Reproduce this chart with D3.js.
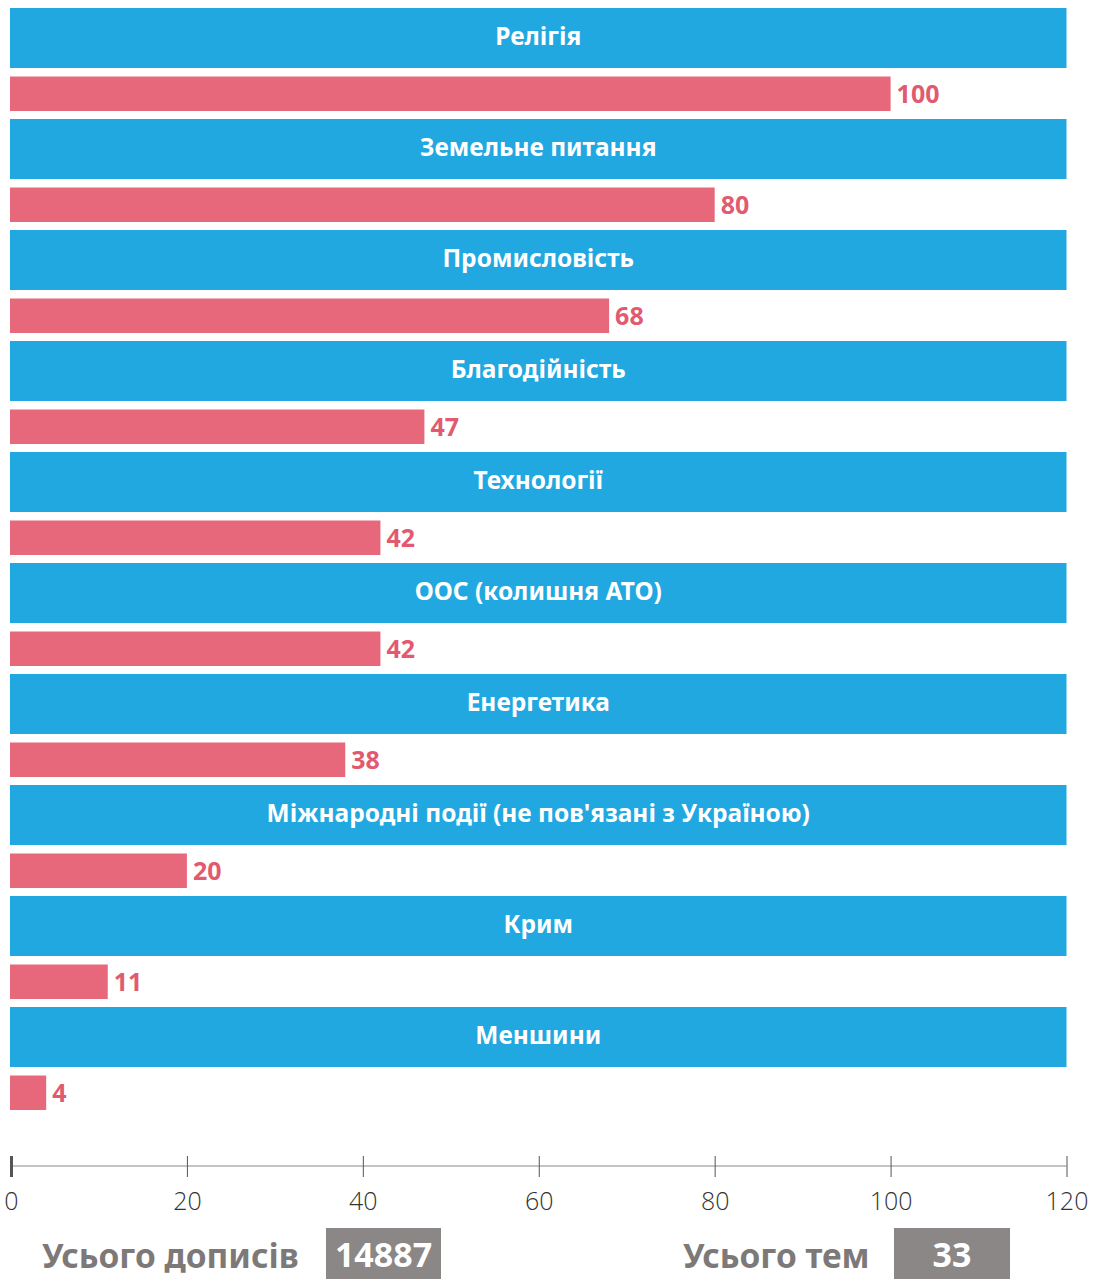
<!DOCTYPE html>
<html lang="uk">
<head>
  <meta charset="UTF-8" />
  <title>Теми дописів</title>
  <script src="https://cdn.jsdelivr.net/npm/d3@7"></script>
  <style>
    body { margin: 0; background: #fff; }
    svg { display: block; font-family: "Noto Sans", "Open Sans", sans-serif; }
  </style>
</head>
<body>
<script>
  // data
  var categories = ["Релігія", "Земельне питання", "Промисловість", "Благодійність", "Технології",
    "ООС (колишня АТО)", "Енергетика", "Міжнародні події (не пов'язані з Україною)", "Крим", "Меншини"];
  var values = [100, 80, 68, 47, 42, 42, 38, 20, 11, 4];
  var tickValues = [0, 20, 40, 60, 80, 100, 120];
  var totalLabels = ["Усього дописів", "Усього тем"];
  var totalValues = [14887, 33];

  var w = 1097, h = 1279;
  var blue = "#21a8e1", pink = "#e8687b", pinkText = "#e25a70", grey = "#7d7978", box = "#8b8786";

  var svg = d3.select("body").append("svg").attr("width", w).attr("height", h);

  var x = d3.scaleLinear().domain([0, 120]).range([11, 1066.5]);

  var y = d3.scaleBand()
    .domain(categories)
    .range([8, 8 + 111 * categories.length])
    .paddingInner(0).paddingOuter(0);

  var rows = svg.selectAll("g.row")
    .data(categories)
    .enter()
    .append("g")
    .attr("class", "row")
    .attr("transform", function(d) { return "translate(0," + y(d) + ")"; });

  // blue heading band
  rows.append("rect")
    .attr("x", 10)
    .attr("width", x(120) - 10)
    .attr("height", 60)
    .style("fill", blue);

  rows.append("text")
    .attr("x", (10 + x(120)) / 2)
    .attr("y", 28)
    .attr("dy", "0.35em")
    .attr("text-anchor", "middle")
    .style("font-size", "24.5px")
    .style("font-weight", "bold")
    .style("fill", "#fff")
    .text(function(d) { return d; });

  // pink value bar
  rows.append("rect")
    .attr("x", 10)
    .attr("y", 68.5)
    .attr("width", function(d, i) { return x(values[i]) - 10; })
    .attr("height", 34.5)
    .style("fill", pink);

  rows.append("text")
    .attr("x", function(d, i) { return x(values[i]) + 6; })
    .attr("y", 86)
    .attr("dy", "0.35em")
    .style("font-size", "25px")
    .style("font-weight", "bold")
    .style("fill", pinkText)
    .text(function(d, i) { return values[i]; });

  // axis
  var axis = d3.axisBottom(x)
    .tickValues(tickValues)
    .tickSize(0)
    .tickPadding(0);

  var ax = svg.append("g").attr("transform", "translate(0,1166)").call(axis);
  ax.select(".domain").attr("stroke", "#c4c4c4").attr("stroke-width", 2).attr("d", "M" + x(0) + ",0H" + x(120));
  ax.selectAll(".tick line")
    .attr("y1", -10).attr("y2", 11)
    .attr("stroke", "#555")
    .attr("stroke-width", function(d) { return d === 0 ? 3 : 1; });
  ax.selectAll(".tick text")
    .attr("y", 26)
    .attr("dy", "0.7em")
    .style("font-family", "'Open Sans', sans-serif")
    .style("font-size", "25px")
    .style("font-weight", "300")
    .style("fill", "#333");

  // totals
  var labelX = [42, 683], boxX = [326, 894], boxW = [115, 116];
  var totals = svg.selectAll("g.total")
    .data(totalLabels)
    .enter()
    .append("g")
    .attr("class", "total");

  totals.append("text")
    .attr("x", function(d, i) { return labelX[i]; })
    .attr("y", 1268)
    .style("font-size", "33.5px")
    .style("font-weight", "bold")
    .style("fill", grey)
    .text(function(d) { return d; });

  totals.append("rect")
    .attr("x", function(d, i) { return boxX[i]; })
    .attr("y", 1228)
    .attr("width", function(d, i) { return boxW[i]; })
    .attr("height", 51)
    .style("fill", box);

  totals.append("text")
    .attr("x", function(d, i) { return boxX[i] + boxW[i] / 2; })
    .attr("y", 1267)
    .attr("text-anchor", "middle")
    .style("font-size", "34px")
    .style("font-weight", "bold")
    .style("fill", "#fff")
    .text(function(d, i) { return totalValues[i]; });
</script>
</body>
</html>
